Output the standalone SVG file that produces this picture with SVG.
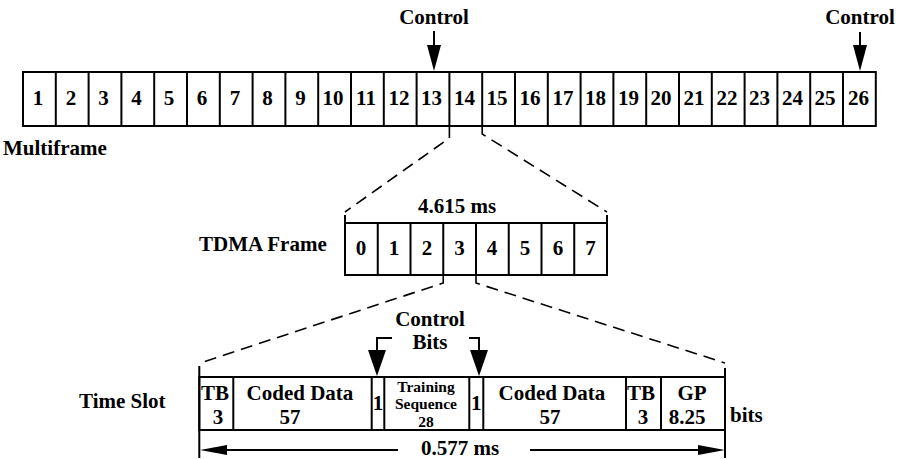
<svg xmlns="http://www.w3.org/2000/svg" width="902" height="459" viewBox="0 0 902 459">
<style>
.box{fill:#fff;stroke:#000;stroke-width:2}
.ln{fill:none;stroke:#000;stroke-width:2}
.dash{fill:none;stroke:#000;stroke-width:1.6;stroke-dasharray:12 7}
.t{font-family:"Liberation Serif","Times New Roman",serif;font-weight:bold;font-size:21px;fill:#000}
.c{text-anchor:middle}
.s{font-size:15.5px}
.ah{fill:#000;stroke:none}
</style>
<rect width="902" height="459" fill="#fff"/>

<g id="multiframe">
<rect class="box" x="23" y="72" width="852.8" height="54"/>
<g id="mf1"><text class="t c" x="38" y="105">1</text></g>
<g id="mf2"><path class="ln" d="M55.8,72V126"/><text class="t c" x="71" y="105">2</text></g>
<g id="mf3"><path class="ln" d="M88.6,72V126"/><text class="t c" x="103.5" y="105">3</text></g>
<g id="mf4"><path class="ln" d="M121.4,72V126"/><text class="t c" x="136.5" y="105">4</text></g>
<g id="mf5"><path class="ln" d="M154.2,72V126"/><text class="t c" x="169" y="105">5</text></g>
<g id="mf6"><path class="ln" d="M187,72V126"/><text class="t c" x="202" y="105">6</text></g>
<g id="mf7"><path class="ln" d="M219.8,72V126"/><text class="t c" x="235" y="105">7</text></g>
<g id="mf8"><path class="ln" d="M252.6,72V126"/><text class="t c" x="267.5" y="105">8</text></g>
<g id="mf9"><path class="ln" d="M285.4,72V126"/><text class="t c" x="300.5" y="105">9</text></g>
<g id="mf10"><path class="ln" d="M318.2,72V126"/><text class="t c" x="333" y="105">10</text></g>
<g id="mf11"><path class="ln" d="M351,72V126"/><text class="t c" x="366" y="105">11</text></g>
<g id="mf12"><path class="ln" d="M383.8,72V126"/><text class="t c" x="399" y="105">12</text></g>
<g id="mf13"><path class="ln" d="M416.6,72V126"/><text class="t c" x="431.5" y="105">13</text></g>
<g id="mf14"><path class="ln" d="M449.4,72V126"/><text class="t c" x="464.5" y="105">14</text></g>
<g id="mf15"><path class="ln" d="M482.2,72V126"/><text class="t c" x="497" y="105">15</text></g>
<g id="mf16"><path class="ln" d="M515,72V126"/><text class="t c" x="530" y="105">16</text></g>
<g id="mf17"><path class="ln" d="M547.8,72V126"/><text class="t c" x="563" y="105">17</text></g>
<g id="mf18"><path class="ln" d="M580.6,72V126"/><text class="t c" x="595.5" y="105">18</text></g>
<g id="mf19"><path class="ln" d="M613.4,72V126"/><text class="t c" x="628.5" y="105">19</text></g>
<g id="mf20"><path class="ln" d="M646.2,72V126"/><text class="t c" x="661" y="105">20</text></g>
<g id="mf21"><path class="ln" d="M679,72V126"/><text class="t c" x="694" y="105">21</text></g>
<g id="mf22"><path class="ln" d="M711.8,72V126"/><text class="t c" x="727" y="105">22</text></g>
<g id="mf23"><path class="ln" d="M744.6,72V126"/><text class="t c" x="759.5" y="105">23</text></g>
<g id="mf24"><path class="ln" d="M777.4,72V126"/><text class="t c" x="792.5" y="105">24</text></g>
<g id="mf25"><path class="ln" d="M810.2,72V126"/><text class="t c" x="825" y="105">25</text></g>
<g id="mf26"><path class="ln" d="M843,72V126"/><text class="t c" x="858.5" y="105">26</text></g>
<text class="t" x="3" y="155">Multiframe</text>
</g>

<g id="control1"><text class="t c" x="434" y="24">Control</text></g>
<g id="control2"><text class="t c" x="860" y="24">Control</text></g>

<g id="tdma">
<rect class="box" x="345" y="223" width="262" height="52"/>
<path class="ln" d="M377.75,223V275M410.5,223V275M443.25,223V275M476,223V275M508.75,223V275M541.5,223V275M574.25,223V275"/>
<path class="ln" d="M345,215V223M607,215V223"/>
<g id="tdma0"><text class="t c" x="361" y="255">0</text></g>
<g id="tdma1"><text class="t c" x="394" y="255">1</text></g>
<g id="tdma2"><text class="t c" x="427" y="255">2</text></g>
<g id="tdma3"><text class="t c" x="459.5" y="255">3</text></g>
<g id="tdma4"><text class="t c" x="492" y="255">4</text></g>
<g id="tdma5"><text class="t c" x="525" y="255">5</text></g>
<g id="tdma6"><text class="t c" x="558" y="255">6</text></g>
<g id="tdma7"><text class="t c" x="590.5" y="255">7</text></g>
<text class="t c" x="457" y="213">4.615 ms</text>
<text class="t" x="199" y="251">TDMA Frame</text>
</g>

<g id="timeslot">
<rect class="box" x="199.3" y="377" width="525.7" height="53"/>
<path class="ln" d="M233.3,377V430M371.7,377V430M384.3,377V430M469.3,377V430M483.3,377V430M626,377V430M661,377V430"/>
<path class="ln" d="M199.3,366V458M725,368V458"/>
<g id="ts-tb1"><text class="t c" x="215" y="400">TB</text><text class="t c" x="218" y="424">3</text></g>
<g id="ts-cd1"><text class="t c" x="300" y="400">Coded Data</text><text class="t c" x="290" y="424">57</text></g>
<g id="ts-c1"><text class="t c" x="378" y="410">1</text></g>
<g id="ts-train"><text class="t c s" x="426" y="392">Training</text><text class="t c s" x="426" y="409">Sequence</text><text class="t c s" x="426" y="427">28</text></g>
<g id="ts-c2"><text class="t c" x="476.3" y="410">1</text></g>
<g id="ts-cd2"><text class="t c" x="552" y="400">Coded Data</text><text class="t c" x="550" y="424">57</text></g>
<g id="ts-tb2"><text class="t c" x="641" y="400">TB</text><text class="t c" x="643" y="424">3</text></g>
<g id="ts-gp"><text class="t c" x="692" y="400">GP</text><text class="t c" x="687" y="424">8.25</text></g>
<text class="t" x="730" y="422">bits</text>
<text class="t" x="79" y="408">Time Slot</text>
<text class="t c" x="460" y="455">0.577 ms</text>
<text class="t c" x="430" y="326">Control</text>
<text class="t c" x="430" y="349">Bits</text>
</g>

<g id="connectors">
<path class="ln" d="M434,31V48"/>
<polygon class="ah" points="427,45 441,45 434,71"/>
<path class="ln" d="M860,32V48"/>
<polygon class="ah" points="853,45 867,45 860,71"/>
<path class="dash" d="M449.4,126V138L345,212"/>
<path class="dash" d="M482.2,126V134L607,212"/>
<path class="dash" d="M443.25,275V283L200,363"/>
<path class="dash" d="M476,275V283L725,363"/>
<path class="ln" d="M392,338H377V352"/>
<polygon class="ah" points="368,350 386,350 377,376"/>
<path class="ln" d="M469,338H479V352"/>
<polygon class="ah" points="470,350 488,350 479,376"/>
<path class="ln" d="M222,450H398M530,450H702"/>
<polygon class="ah" points="200,450 227,445 227,455"/>
<polygon class="ah" points="725,450 698,445 698,455"/>
</g>
</svg>
